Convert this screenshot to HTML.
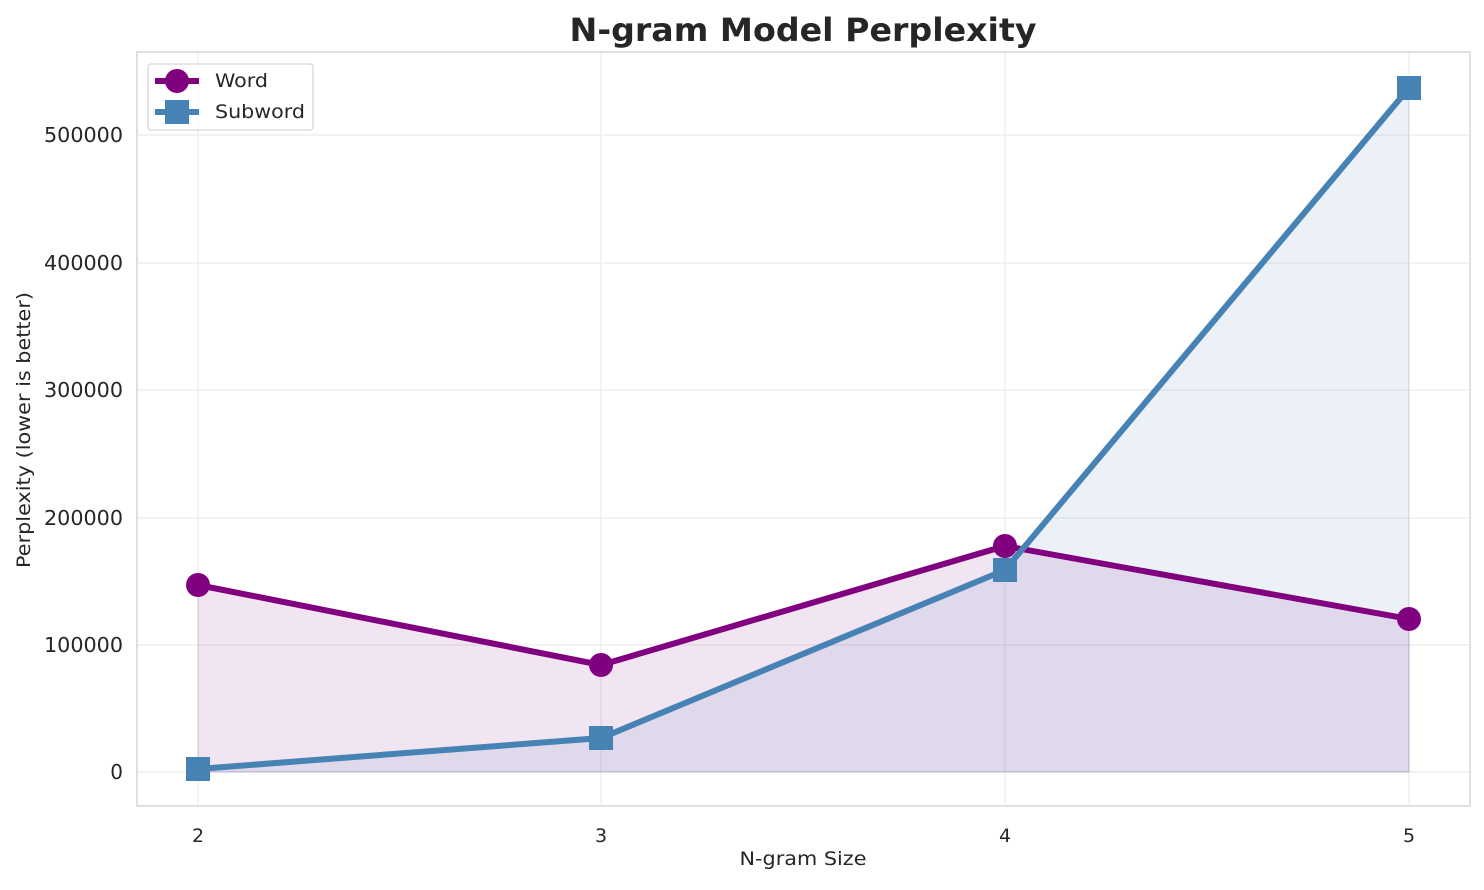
<!DOCTYPE html>
<html><head><style>body{margin:0;background:#fff}</style></head><body>
<svg width="1484" height="885" xmlns="http://www.w3.org/2000/svg" font-family="DejaVu Sans, Liberation Sans, sans-serif">
<rect width="1484" height="885" fill="#fff"/>
<g stroke="#ebebeb" stroke-width="1.2">
<line x1="198" y1="52" x2="198" y2="806"/><line x1="601" y1="52" x2="601" y2="806"/>
<line x1="1005" y1="52" x2="1005" y2="806"/><line x1="1409" y1="52" x2="1409" y2="806"/>
<line x1="137" y1="772" x2="1470" y2="772"/><line x1="137" y1="645" x2="1470" y2="645"/>
<line x1="137" y1="518" x2="1470" y2="518"/><line x1="137" y1="390" x2="1470" y2="390"/>
<line x1="137" y1="263" x2="1470" y2="263"/><line x1="137" y1="135" x2="1470" y2="135"/>
</g>
<polygon points="198,772 198,585 601,665 1005,546 1409,619 1409,772" fill="purple" fill-opacity="0.1" stroke="purple" stroke-opacity="0.15"/>
<polygon points="198,772 198,769 601,738 1005,570 1409,88 1409,772" fill="steelblue" fill-opacity="0.11" stroke="steelblue" stroke-opacity="0.15"/>
<polyline points="198,585 601,665 1005,546 1409,619" fill="none" stroke="purple" stroke-width="6"/>
<g fill="purple"><circle cx="198" cy="585" r="12"/><circle cx="601" cy="665" r="12"/><circle cx="1005" cy="546" r="12"/><circle cx="1409" cy="619" r="12"/></g>
<polyline points="198,769 601,738 1005,570 1409,88" fill="none" stroke="steelblue" stroke-width="6"/>
<g fill="steelblue"><rect x="186" y="757" width="24" height="24"/><rect x="589" y="726" width="24" height="24"/><rect x="993" y="558" width="24" height="24"/><rect x="1397" y="76" width="24" height="24"/></g>
<rect x="137" y="52" width="1333" height="754" fill="none" stroke="#ccc" stroke-width="1.2"/>
<g font-size="19" fill="#262626" text-anchor="middle">
<text x="198" y="842">2</text><text x="601" y="842">3</text><text x="1005" y="842">4</text><text x="1409" y="842">5</text>
<text x="803" y="865" textLength="127" lengthAdjust="spacingAndGlyphs">N-gram Size</text>
</g>
<g font-size="20" fill="#262626" text-anchor="end">
<text x="123" y="779">0</text>
<text x="123" y="652" textLength="79" lengthAdjust="spacingAndGlyphs">100000</text>
<text x="123" y="525" textLength="79" lengthAdjust="spacingAndGlyphs">200000</text>
<text x="123" y="397" textLength="79" lengthAdjust="spacingAndGlyphs">300000</text>
<text x="123" y="270" textLength="79" lengthAdjust="spacingAndGlyphs">400000</text>
<text x="123" y="142" textLength="79" lengthAdjust="spacingAndGlyphs">500000</text>
</g>
<text transform="translate(30,430) rotate(-90)" font-size="19" fill="#262626" text-anchor="middle" textLength="276" lengthAdjust="spacingAndGlyphs">Perplexity (lower is better)</text>
<text x="803" y="41" font-size="32" font-weight="bold" fill="#262626" text-anchor="middle" textLength="467" lengthAdjust="spacingAndGlyphs">N-gram Model Perplexity</text>
<rect x="148" y="64" width="165" height="66" rx="3" fill="#fff" fill-opacity="0.8" stroke="#ccc"/>
<line x1="155" y1="81" x2="199" y2="81" stroke="purple" stroke-width="6"/><circle cx="177" cy="81" r="12" fill="purple"/>
<line x1="155" y1="112" x2="199" y2="112" stroke="steelblue" stroke-width="6"/><rect x="165" y="100" width="24" height="24" fill="steelblue"/>
<g font-size="19" fill="#262626"><text x="215" y="87" textLength="53" lengthAdjust="spacingAndGlyphs">Word</text><text x="215" y="118" textLength="90" lengthAdjust="spacingAndGlyphs">Subword</text></g>
</svg>
</body></html>
